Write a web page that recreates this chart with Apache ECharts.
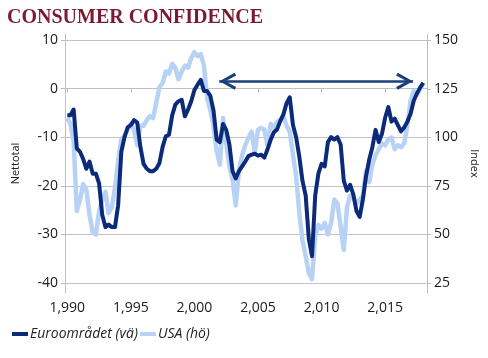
<!DOCTYPE html>
<html>
<head>
<meta charset="utf-8">
<script src="https://cdn.jsdelivr.net/npm/echarts@6/dist/echarts.min.js"></script>
<style>
html,body{margin:0;padding:0;background:#fff;}
#chart{width:488px;height:358px;}
</style>
</head>
<body>
<div id="chart"></div>
<script>
// Quarterly dates (decimal years), 1990 Q1 .. 2018 Q1
const years = Array.from({length: 113}, (_, i) => 1990 + i * 0.25);

// Euro area consumer confidence, net balance (left axis)
const euro = [
  -5.5, -5.5, -4.3, -12.3, -13.0, -14.5, -16.5, -15.0, -17.5, -17.5, -19.5, -26.0,
  -28.5, -28.0, -28.5, -28.5, -24.0, -13.0, -10.0, -8.0, -7.5, -6.5, -7.0, -12.0,
  -15.5, -16.5, -17.0, -17.0, -16.5, -15.3, -12.0, -9.8, -9.5, -5.5, -3.3, -2.6,
  -2.3, -5.7, -4.3, -2.6, -0.3, 0.8, 1.8, -0.5, -0.5, -1.5, -4.5, -10.5,
  -11.0, -7.3, -8.5, -11.5, -17.0, -18.5, -17.0, -16.0, -15.0, -13.9, -13.6, -13.4,
  -13.8, -13.6, -14.2, -12.5, -10.5, -9.0, -8.4, -6.7, -5.3, -3.0, -1.8, -7.5,
  -10.0, -14.0, -19.0, -22.0, -31.0, -34.5, -22.0, -17.5, -15.5, -16.0, -11.0, -10.0,
  -10.5, -10.0, -11.5, -19.0, -21.0, -19.8, -21.8, -25.2, -26.4, -22.8, -18.0, -14.6,
  -12.0, -8.5, -11.0, -9.3, -6.0, -3.8, -6.8, -6.2, -7.5, -8.8, -8.0, -6.8,
  -5.2, -2.5, -1.0, 0.2, 1.2
];

// USA consumer confidence index (right axis)
const usa = [
  110, 107, 98, 62, 68, 76, 73, 60, 51, 50, 62, 68,
  72, 61, 64, 74, 88, 99, 101, 104, 107, 104, 96, 106,
  106, 109, 111, 110, 118, 126, 128, 134, 133, 138, 136, 130,
  134, 137, 136, 141, 144, 142, 143, 137, 120, 114, 106, 93,
  86, 110, 97, 85, 78, 65, 83, 91, 96, 100, 103, 92,
  104, 105, 104, 96, 107, 105, 108, 109, 111, 106, 103, 91,
  80, 61, 47, 39, 30, 27, 49, 55, 53, 56, 50, 56,
  68, 66, 54, 42, 64, 70, 69, 66, 68, 70, 83, 77,
  86, 91, 94, 97, 96, 99, 100, 94, 96, 95, 97, 106,
  119, 124, 122, 125, 128
];

const xTicks = [1990, 1995, 2000, 2005, 2010, 2015];
const leftTicks = [-40, -30, -20, -10, 0, 10];
const rightTicks = [25, 50, 75, 100, 125, 150];

// Arrow annotation (start/end year, level on left axis)
const arrowFrom = [2001.95, 1.5];
const arrowTo = [2017.2, 1.5];

const euroData = years.map((y, i) => [y, euro[i]]);
const usaData = years.map((y, i) => [y, usa[i]]);

// open chevron, tip at the centre of its box so it sits on the line end
const chevron = 'path://M8,0 L8.01,0 L8,0.01 Z M8,16 L16,30 L13.4,31.5 L8,21.5 L2.6,31.5 L0,30 Z';

const font = 'Open Sans';
const chart = echarts.init(document.getElementById('chart'));
chart.setOption({
  animation: false,
  backgroundColor: '#ffffff',
  title: {
    text: 'CONSUMER CONFIDENCE',
    left: 7, top: 8, padding: 0,
    textStyle: {fontFamily: 'Liberation Serif', fontWeight: 'bold', fontSize: 20, color: '#7a1a2e'}
  },
  legend: {
    left: 12, top: 327, padding: 0,
    itemWidth: 16, itemHeight: 4, itemGap: 2,
    icon: 'rect',
    data: ['Euroområdet (vä)', 'USA (hö)'],
    textStyle: {fontFamily: font, fontStyle: 'italic', fontSize: 14, color: '#222', padding: [0, 0, 0, -3]}
  },
  grid: {left: 65, right: 56, top: 34, bottom: 65},
  xAxis: {
    type: 'value', min: 1989.82, max: 2018.3,
    axisLine: {lineStyle: {color: '#bfbfbf', width: 1}},
    axisTick: {show: true, customValues: xTicks, length: 4, lineStyle: {color: '#bfbfbf'}},
    axisLabel: {customValues: xTicks, margin: 8, fontFamily: font, fontSize: 14, color: '#1a1a1a'},
    splitLine: {show: false}
  },
  yAxis: [
    {
      type: 'value', min: -42.06, max: 11.23, position: 'left',
      name: 'Nettotal', nameLocation: 'middle', nameGap: 44,
      nameTextStyle: {fontFamily: font, fontSize: 11, color: '#222'},
      axisLine: {show: true, lineStyle: {color: '#bfbfbf', width: 1}},
      axisTick: {show: true, customValues: leftTicks, length: 4, lineStyle: {color: '#bfbfbf'}},
      axisLabel: {customValues: leftTicks, margin: 7, fontFamily: font, fontSize: 14, color: '#1a1a1a'},
      splitLine: {show: true, lineStyle: {color: '#c2c2c2', width: 1}}
    },
    {
      type: 'value', min: 19.85, max: 153.35, position: 'right',
      name: 'Index', nameLocation: 'middle', nameGap: 35, nameRotate: -90,
      nameTextStyle: {fontFamily: font, fontSize: 11, color: '#222'},
      axisLine: {show: true, lineStyle: {color: '#bfbfbf', width: 1}},
      axisTick: {show: true, customValues: rightTicks, length: 4, lineStyle: {color: '#bfbfbf'}},
      axisLabel: {customValues: rightTicks, margin: 7, fontFamily: font, fontSize: 14, color: '#1a1a1a'},
      splitLine: {show: false}
    }
  ],
  series: [
    {
      name: 'USA (hö)', type: 'line', yAxisIndex: 1, data: usaData,
      showSymbol: false, z: 2,
      itemStyle: {color: '#b8d2f5'},
      lineStyle: {color: '#b8d2f5', width: 4.5, join: 'round'}
    },
    {
      name: 'Euroområdet (vä)', type: 'line', yAxisIndex: 0, data: euroData,
      showSymbol: false, z: 3,
      itemStyle: {color: '#0c2a7a'},
      lineStyle: {color: '#0c2a7a', width: 4, join: 'round'},
      markLine: {
        silent: true,
        symbol: [chevron, chevron],
        symbolSize: [17, 34],
        label: {show: false},
        lineStyle: {color: '#1b3f7a', width: 2.5, type: 'solid'},
        emphasis: {disabled: true},
        data: [[{coord: arrowFrom}, {coord: arrowTo}]]
      }
    }
  ]
});
</script>
</body>
</html>
